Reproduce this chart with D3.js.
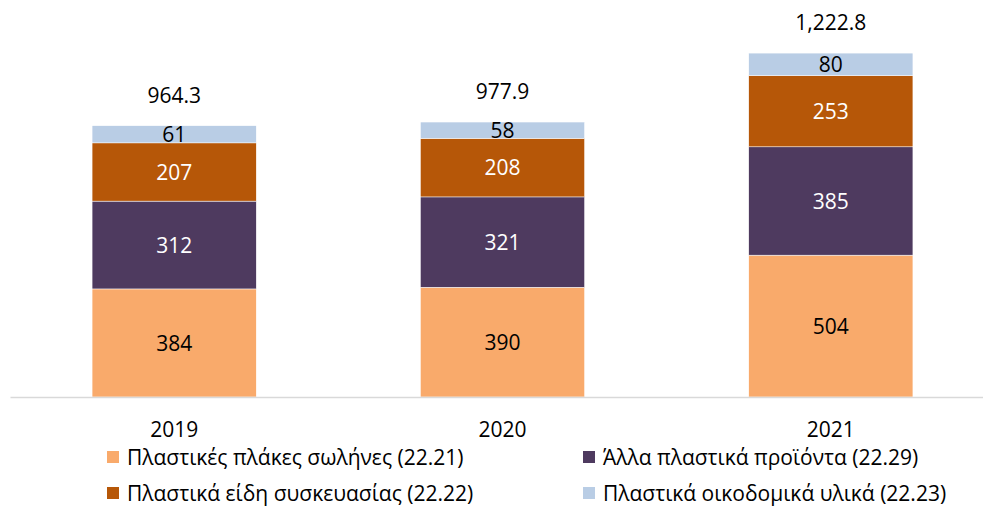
<!DOCTYPE html>
<html>
<head>
<meta charset="utf-8">
<script src="https://cdn.jsdelivr.net/npm/d3@7"></script>
<style>
  body { margin: 0; background: #fff; }
  text { font-family: "Open Sans", sans-serif; }
</style>
</head>
<body>
<div id="chart"></div>
<script>
// Chart size
const width = 983;
const height = 506;

// Data
const years = ["2019", "2020", "2021"];
const seriesNames = [
    "Πλαστικές πλάκες σωλήνες (22.21)",
    "Άλλα πλαστικά προϊόντα (22.29)",
    "Πλαστικά είδη συσκευασίας (22.22)",
    "Πλαστικά οικοδομικά υλικά (22.23)"
];
const pipes = [384, 390, 504];
const other = [312, 321, 385];
const packaging = [207, 208, 253];
const building = [61, 58, 80];
const totals = ["964.3", "977.9", "1,222.8"];

const colors = ["#F9AA6B", "#4E3A5F", "#B65708", "#B9CDE5"];
const labelColors = ["#000", "#fff", "#fff", "#000"];

const rows = years.map((y, i) => ({
    year: y, pipes: pipes[i], other: other[i], packaging: packaging[i], building: building[i], total: totals[i]
}));
const keys = ["pipes", "other", "packaging", "building"];

const svg = d3.select("#chart")
    .append("svg")
    .attr("width", width)
    .attr("height", height);

// Scales
const x = d3.scaleBand()
    .domain(years)
    .range([10, 995])
    .paddingInner(0.5)
    .paddingOuter(0.25);

const y = d3.scaleLinear()
    .domain([0, 1400])
    .range([397, 3]);

const stack = d3.stack().keys(keys);
const stacked = stack(rows);

// Bars
const layers = svg.append("g")
    .selectAll("g")
    .data(stacked)
    .enter()
    .append("g")
    .attr("fill", (d, i) => colors[i]);

layers.selectAll("rect")
    .data(d => d)
    .enter()
    .append("rect")
    .attr("x", d => x(d.data.year))
    .attr("y", d => y(d[1]))
    .attr("width", x.bandwidth())
    .attr("height", d => y(d[0]) - y(d[1]))
    .attr("stroke", "#fff")
    .attr("stroke-width", 0.5);

// Segment labels
layers.each(function(layer, i) {
    d3.select(this).selectAll("text")
        .data(layer)
        .enter()
        .append("text")
        .attr("x", d => x(d.data.year) + x.bandwidth() / 2)
        .attr("y", d => (y(d[0]) + y(d[1])) / 2)
        .attr("dy", "0.36em")
        .attr("text-anchor", "middle")
        .attr("font-size", 21)
        .attr("fill", labelColors[i])
        .text(d => d.data[layer.key]);
});

// Totals
svg.append("g")
    .selectAll("text")
    .data(stacked[stacked.length - 1])
    .enter()
    .append("text")
    .attr("x", d => x(d.data.year) + x.bandwidth() / 2)
    .attr("y", d => y(d[1]) - 23)
    .attr("text-anchor", "middle")
    .attr("font-size", 21)
    .attr("fill", "#000")
    .text(d => d.data.total);

// Axis
const xAxis = svg.append("g")
    .attr("transform", `translate(0, ${y(0)})`)
    .call(d3.axisBottom(x).tickSize(0).tickPadding(25));
xAxis.select(".domain").attr("stroke", "#d9d9d9").attr("stroke-width", 1.5);
xAxis.selectAll("text")
    .attr("font-family", "Open Sans, sans-serif")
    .attr("font-size", 21)
    .attr("fill", "#000");

// Legend
const legendPos = [[107, 457], [583, 457], [107, 493], [583, 493]];
const legend = svg.append("g");
const items = legend.selectAll("g")
    .data(seriesNames)
    .enter()
    .append("g")
    .attr("transform", (d, i) => `translate(${legendPos[i][0]}, ${legendPos[i][1]})`);

items.append("rect")
    .attr("x", 0)
    .attr("y", -6)
    .attr("width", 12)
    .attr("height", 12)
    .attr("fill", (d, i) => colors[i]);

items.append("text")
    .attr("x", 20)
    .attr("dy", "0.36em")
    .attr("font-size", 21)
    .attr("fill", "#000")
    .text(d => d);
</script>
</body>
</html>
